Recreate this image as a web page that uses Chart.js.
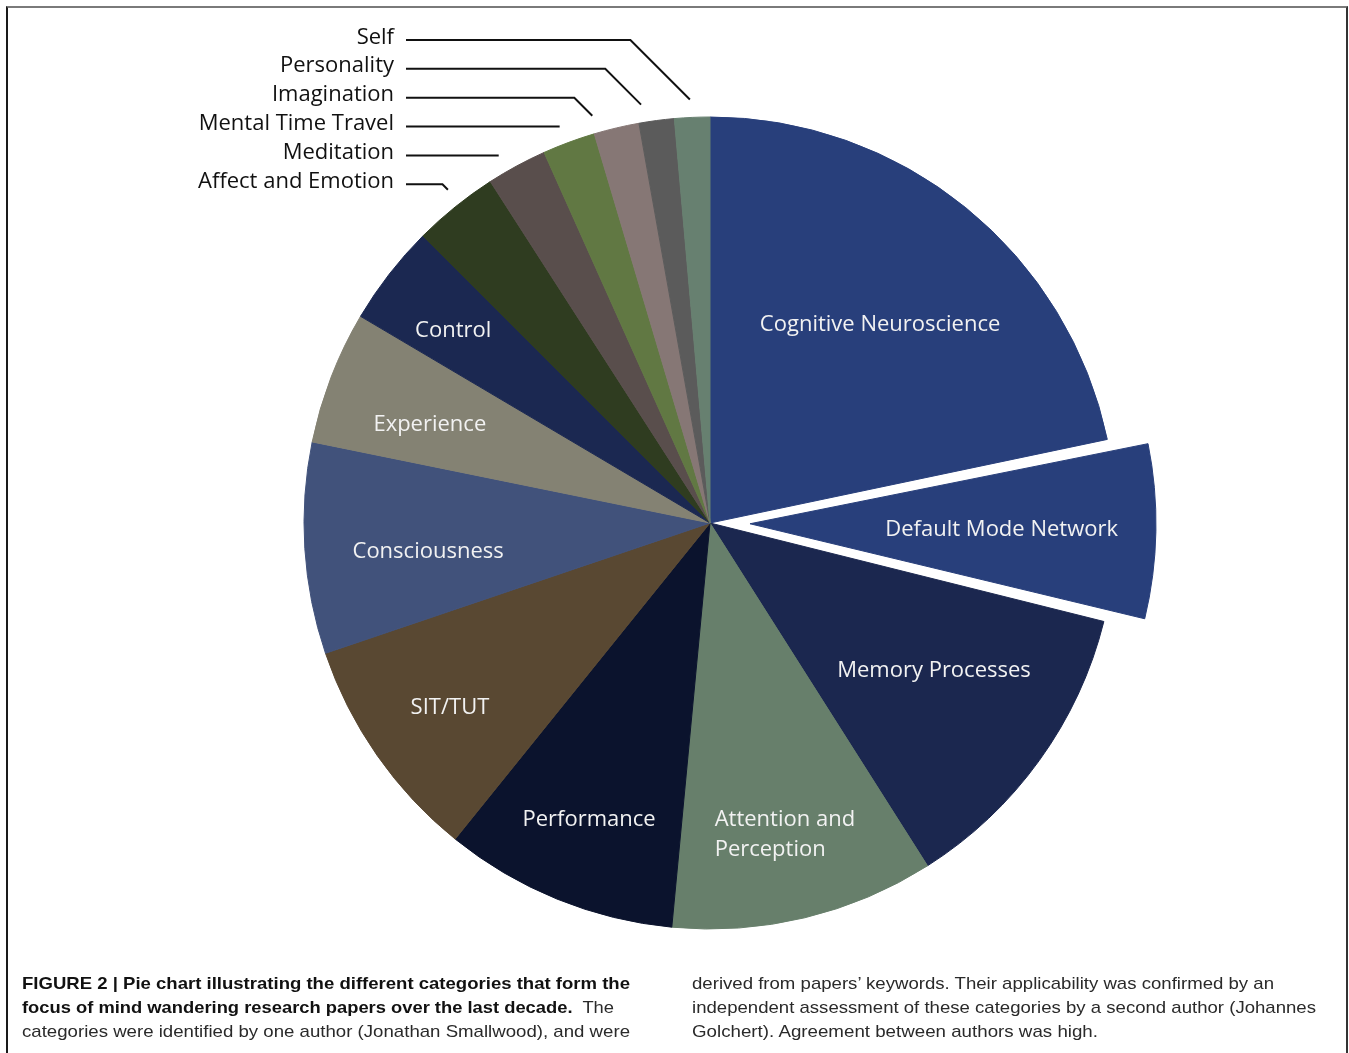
<!DOCTYPE html>
<html>
<head>
<meta charset="utf-8">
<title>Mind wandering research categories</title>
<script src="https://cdn.jsdelivr.net/npm/chart.js@4.4.1/dist/chart.umd.min.js"></script>
<style>
  html, body { margin: 0; padding: 0; background: #fff; }
  body { width: 1349px; height: 1053px; position: relative; overflow: hidden; }
  #frame {
    position: absolute; left: 6px; top: 6px; width: 1342px; height: 1100px;
    border-top: 2px solid #7a7a7a; border-left: 2px solid #1a1a1a; border-right: 2px solid #333;
    box-sizing: border-box;
  }
  #pie { position: absolute; left: 0; top: 0; }
  .cap {
    position: absolute; font-family: 'Liberation Sans', Arial, sans-serif; font-size: 17px;
    line-height: 17px; color: #2a2a2a; white-space: nowrap; transform-origin: 0 0;
  }
  .cap b { color: #111; }
</style>
</head>
<body>
<div id="frame"></div>
<canvas id="pie" width="1349" height="1053"></canvas>

<div class="cap" style="left:22px;top:975px" data-w="608"><b>FIGURE 2 | Pie chart illustrating the different categories that form the</b></div>
<div class="cap" style="left:22px;top:999px" data-w="592"><b>focus of mind wandering research papers over the last decade.</b>&nbsp; The</div>
<div class="cap" style="left:22px;top:1023px" data-w="608">categories were identified by one author (Jonathan Smallwood), and were</div>
<div class="cap" style="left:692px;top:975px" data-w="582">derived from papers’ keywords. Their applicability was confirmed by an</div>
<div class="cap" style="left:692px;top:999px" data-w="624">independent assessment of these categories by a second author (Johannes</div>
<div class="cap" style="left:692px;top:1023px" data-w="406">Golchert). Agreement between authors was high.</div>

<script>
// categories, clockwise from 12 o'clock
const CATEGORIES = [
  'Cognitive Neuroscience', 'Default Mode Network', 'Memory Processes',
  'Attention and Perception', 'Performance', 'SIT/TUT', 'Consciousness',
  'Experience', 'Control', 'Affect and Emotion', 'Meditation',
  'Mental Time Travel', 'Imagination', 'Personality', 'Self',
];
// share of papers (%)
const SHARES = [21.7, 7.2, 12.1, 10.5, 9.3, 9.0, 8.4, 5.3, 4.0, 3.4, 2.4, 2.1, 1.8, 1.4, 1.4];
const COLORS = [
  '#283f7b', '#283f7b', '#1b274f', '#677f6b', '#0b132d', '#594832', '#41527b',
  '#848273', '#1b2851', '#2f3c20', '#594e4c', '#617843', '#867775', '#5b5b5b', '#678070',
];
const EXPLODED = 'Default Mode Network';

// the small slices get an outside label with a leader line
const OUTSIDE_FROM = 'Affect and Emotion';

const PIE_RADIUS = 406;
const EXPLODE_PX = 40;
const DEG = Math.PI / 180;

const sliceLabels = {
  id: 'sliceLabels',
  afterUpdate(chart) {
    // chart.js grows an offset arc's radius; keep the exploded slice the same size
    chart.getDatasetMeta(0).data.forEach(arc => {
      const off = (arc.options.offset || 0) / 4;
      if (off) arc.outerRadius = PIE_RADIUS - off * (1 - Math.sin(Math.min(Math.PI, arc.circumference)));
    });
  },
  afterDatasetsDraw(chart, args, opts) {
    const ctx = chart.ctx;
    const arcs = chart.getDatasetMeta(0).data;
    const firstOut = CATEGORIES.indexOf(OUTSIDE_FROM);
    ctx.save();
    ctx.font = opts.font;

    arcs.forEach((arc, i) => {
      const mid = (arc.startAngle + arc.endAngle) / 2;
      const shift = (arc.options.offset || 0) / 4;
      const cx = arc.x + Math.cos(mid) * shift;
      const cy = arc.y + Math.sin(mid) * shift;
      const name = CATEGORIES[i];

      if (i < firstOut) {
        const [rf, dA] = opts.inner[i];
        const a = mid + dA * DEG;
        const lx = cx + Math.cos(a) * PIE_RADIUS * rf;
        const ly = cy + Math.sin(a) * PIE_RADIUS * rf;
        ctx.fillStyle = opts.innerColor;
        ctx.textBaseline = 'middle';
        const lines = opts.wrap[name] || [name];
        if (lines.length === 1) {
          ctx.textAlign = 'center';
          ctx.fillText(name, lx, ly);
        } else {
          const w = Math.max(...lines.map(t => ctx.measureText(t).width));
          ctx.textAlign = 'left';
          lines.forEach((t, k) => {
            ctx.fillText(t, lx - w / 2, ly + (k - (lines.length - 1) / 2) * opts.lineGap);
          });
        }
        return;
      }

      // outside label, stacked from the top: last slice first
      const row = arcs.length - 1 - i;
      const base = opts.firstBaseline + row * opts.rowGap;
      const lineY = base - 3.5;
      ctx.fillStyle = opts.outerColor;
      ctx.textAlign = 'right';
      ctx.textBaseline = 'alphabetic';
      ctx.fillText(name, opts.textRight, base);

      const R = PIE_RADIUS + opts.leaderGap;
      const a = mid + (opts.leaderShift[row] || 0) * DEG;
      const px = arc.x + Math.cos(a) * R;
      const py = arc.y + Math.sin(a) * R;
      ctx.strokeStyle = opts.outerColor;
      ctx.lineWidth = 2;
      ctx.beginPath();
      ctx.moveTo(opts.lineStart, lineY);
      if (py > lineY + 1) {
        ctx.lineTo(px - (py - lineY), lineY);
        ctx.lineTo(px, py);
      } else {
        const dy = arc.y - lineY;
        ctx.lineTo(arc.x - Math.sqrt(Math.max(R * R - dy * dy, 0)), lineY);
      }
      ctx.stroke();
    });
    ctx.restore();
  },
};

new Chart(document.getElementById('pie'), {
  type: 'pie',
  data: {
    labels: CATEGORIES,
    datasets: [{
      data: SHARES,
      backgroundColor: COLORS,
      borderColor: COLORS,
      borderWidth: 1,
      borderJoinStyle: 'bevel',
      offset: CATEGORIES.map(c => c === EXPLODED ? EXPLODE_PX * 4 : 0),
    }],
  },
  options: {
    responsive: false,
    animation: false,
    events: [],
    radius: PIE_RADIUS,
    layout: { padding: { left: 71, right: 0, top: 0, bottom: 7 } },
    plugins: {
      legend: { display: false },
      tooltip: { enabled: false },
      sliceLabels: {
        font: '22px "Open Sans", sans-serif',
        innerColor: '#f2f2f2',
        outerColor: '#111',
        // [radius fraction, angle nudge in degrees] per inside label
        inner: [[0.643, 1.6], [0.62, 0.3], [0.661, -2.4], [0.79, 0], [0.79, 0],
                [0.785, -0.4], [0.698, -2.3], [0.731, -1.8], [0.79, -1.0]],
        wrap: { 'Attention and Perception': ['Attention and', 'Perception'] },
        lineGap: 30,
        textRight: 394,
        firstBaseline: 43.5,
        rowGap: 28.85,
        lineStart: 406,
        leaderGap: 18,
        leaderShift: [-0.2, -1.8, -2.8, 0, 0, 0.7],
      },
    },
  },
  plugins: [sliceLabels],
});

// squeeze caption lines to the measured column widths (the original face is condensed)
document.querySelectorAll('.cap').forEach(el => {
  const target = +el.dataset.w;
  const w = el.getBoundingClientRect().width;
  if (w > 0) el.style.transform = `scaleX(${target / w})`;
});
</script>
</body>
</html>
